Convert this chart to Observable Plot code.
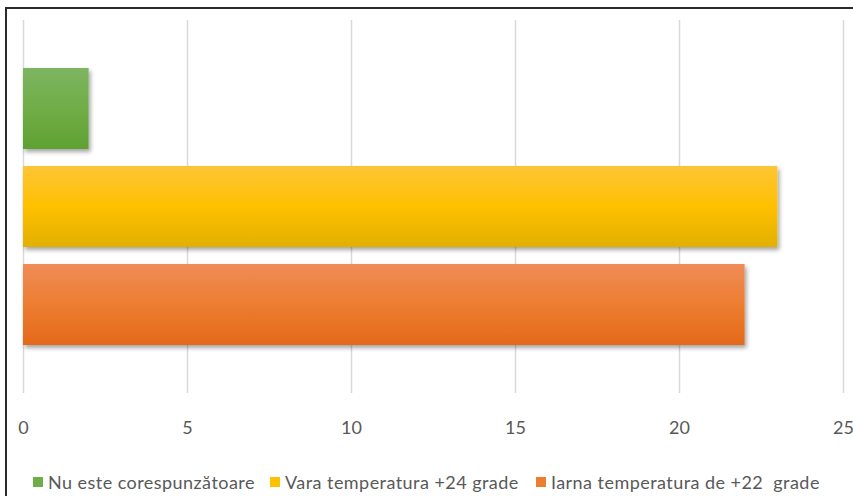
<!DOCTYPE html>
<html>
<head>
<meta charset="utf-8">
<script src="https://cdn.jsdelivr.net/npm/d3@7"></script>
<script src="https://cdn.jsdelivr.net/npm/@observablehq/plot@0.6"></script>
<style>
  html, body { margin: 0; padding: 0; background: #fff; width: 853px; height: 496px; overflow: hidden; }
  #frame { position: absolute; left: 5px; top: 7px; width: 900px; height: 520px; border-left: 2px solid #2b2b2b; border-top: 2px solid #2b2b2b; }
  #chart { position: absolute; left: 0; top: 0; }
  #legend { position: absolute; top: 471px; left: 33px; font-family: Lato, "Open Sans", sans-serif; font-size: 18px; letter-spacing: 0.45px; color: #595959; white-space: pre; }
  .item { position: absolute; top: 0; display: flex; align-items: center; }
  .sw { width: 10px; height: 10px; margin-right: 5px; }
</style>
</head>
<body>
<div id="frame"></div>
<div id="chart"></div>
<div id="legend"></div>
<script>
const categories = ["Nu este corespunzătoare", "Vara temperatura +24 grade", "Iarna temperatura de +22  grade"];
const values = [2, 23, 22];
const colors = ["#70ad47", "#ffc000", "#ed7d31"];
const gradTop = ["#7db561", "#fdc536", "#f08c58"];
const gradBottom = ["#5fa131", "#e2b000", "#e4691a"];
const xTicks = [0, 5, 10, 15, 20, 25];

const data = categories.map((c, i) => ({category: c, value: values[i], i}));

const plot = Plot.plot({
  width: 853,
  height: 440,
  marginLeft: 23,
  marginRight: 10,
  marginTop: 20,
  marginBottom: 47,
  style: {fontFamily: "Lato, 'Open Sans', sans-serif", fontSize: "18px", color: "#595959", background: "transparent", overflow: "visible"},
  x: {domain: [0, 25], ticks: xTicks, tickSize: 0, tickPadding: 28, label: null},
  y: {domain: categories, paddingInner: 0.172, paddingOuter: 0.47, axis: null},
  marks: [
    Plot.gridX(xTicks, {stroke: "#d9d9d9", strokeOpacity: 1, strokeWidth: 1.5}),
    Plot.barX(data, {x: "value", y: "category", fill: (d) => colors[d.i]})
  ]
});
document.getElementById("chart").appendChild(plot);

const svg = d3.select(plot);
const defs = svg.insert("defs", ":first-child");
const f = defs.append("filter").attr("id", "shadow").attr("x", "-10%").attr("y", "-10%").attr("width", "130%").attr("height", "140%");
f.append("feDropShadow").attr("dx", 2).attr("dy", 3).attr("stdDeviation", 2.2).attr("flood-color", "#000").attr("flood-opacity", 0.35);
categories.forEach((c, i) => {
  const g = defs.append("linearGradient").attr("id", "grad" + i).attr("x1", 0).attr("y1", 0).attr("x2", 0).attr("y2", 1);
  g.append("stop").attr("offset", "0%").attr("stop-color", gradTop[i]);
  g.append("stop").attr("offset", "50%").attr("stop-color", colors[i]);
  g.append("stop").attr("offset", "100%").attr("stop-color", gradBottom[i]);
});
svg.selectAll('g[aria-label="bar"] rect').each(function(d, k) {
  d3.select(this).attr("fill", `url(#grad${k})`).attr("filter", "url(#shadow)");
});

const legendPos = [0, 237, 503];
const legend = d3.select("#legend");
categories.forEach((c, i) => {
  const it = legend.append("div").attr("class", "item").style("left", legendPos[i] + "px");
  it.append("div").attr("class", "sw").style("background", colors[i]);
  it.append("span").text(c);
});
</script>
</body>
</html>
